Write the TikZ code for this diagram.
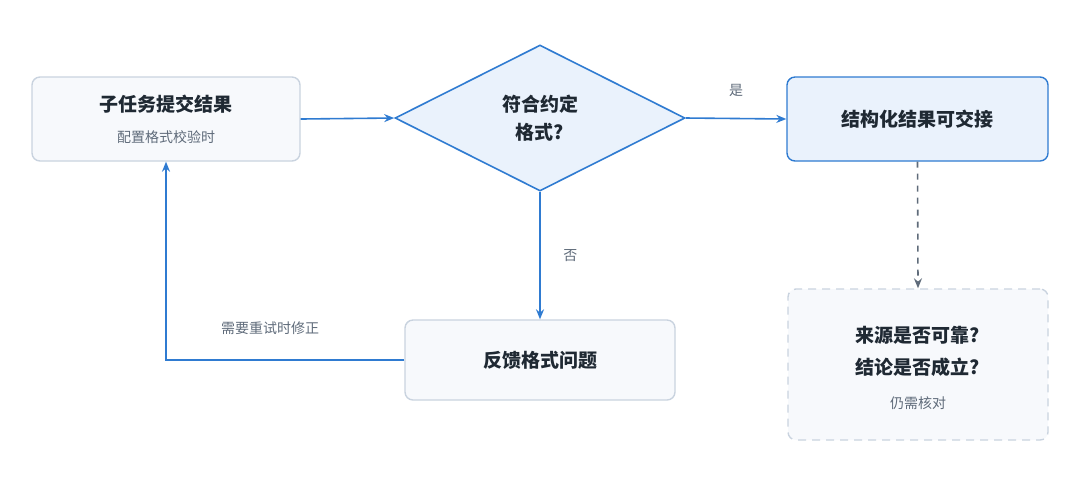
\documentclass[tikz,border=0pt]{standalone}
\usepackage{fontspec}
\setmainfont{Noto Sans CJK SC}
\usetikzlibrary{shapes.geometric,arrows.meta}
\definecolor{lineblue}{HTML}{2F7BD1}
\definecolor{boxgray}{HTML}{C9D3DF}
\definecolor{fillgray}{HTML}{F7F9FC}
\definecolor{fillblue}{HTML}{EAF2FC}
\definecolor{textdark}{HTML}{1F2933}
\definecolor{textgray}{HTML}{5F6B7A}
\tikzset{
  box/.style={draw=boxgray,fill=fillgray,rounded corners=4pt,line width=0.7pt,inner sep=0pt},
  keybox/.style={box,draw=lineblue,fill=fillblue},
  title/.style={font=\bfseries\fontsize{9.5}{11}\selectfont,text=textdark},
  note/.style={font=\fontsize{7}{9}\selectfont,text=textgray},
  flow/.style={-{Stealth[length=5pt,width=4pt]},draw=lineblue,line width=0.8pt}
}
\begin{document}
\begin{tikzpicture}[x=0.5pt,y=-0.5pt]
\useasboundingbox (0,0) rectangle (1080,495);
% boxes
\node[box,minimum width=134pt,minimum height=42pt] (submit) at (166,119) {};
\node[title] at (166,104) {子任务提交结果};
\node[note] at (166,137) {配置格式校验时};
\node[diamond,draw=lineblue,fill=fillblue,line width=0.8pt,minimum width=145pt,minimum height=73pt,inner sep=0pt,
  align=center,title,font=\bfseries\fontsize{9.5}{14}\selectfont] (check) at (540,118) {符合约定\\格式?};
\node[keybox,minimum width=130.5pt,minimum height=42pt,title] (ok) at (917.5,119) {结构化结果可交接};
\node[box,minimum width=135pt,minimum height=40pt,title] (fix) at (540,360) {反馈格式问题};
\node[box,dashed,dash pattern=on 4pt off 3pt,minimum width=130pt,minimum height=75.5pt] (open) at (918,364.5) {};
\node[title] at (918,335) {来源是否可靠?};
\node[title] at (918,367) {结论是否成立?};
\node[note] at (918,403) {仍需核对};
% connectors
\draw[flow] (submit.east) -- (check.west);
\draw[flow] (check.east) -- node[note,above=7pt,pos=0.5]{是} (ok.west);
\draw[flow] (check.south) -- node[note,right=8pt]{否} (fix.north);
\draw[flow] (fix.west) -| (submit.south);
\node[note] at (270,328) {需要重试时修正};
\draw[-{Stealth[length=5pt,width=4pt]},draw=textgray,line width=0.8pt,dashed] (ok.south) -- (open.north);
\end{tikzpicture}
\end{document}
